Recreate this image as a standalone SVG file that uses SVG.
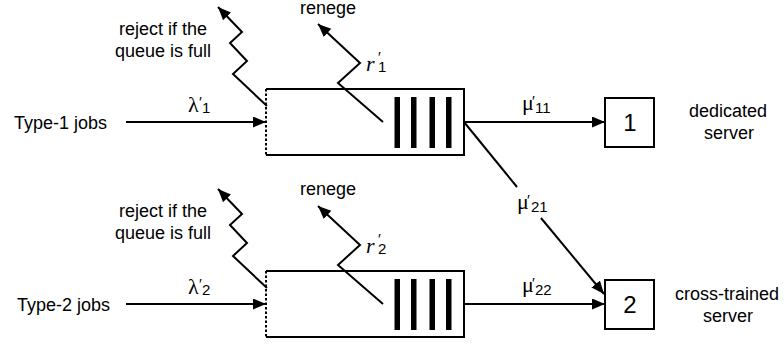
<svg xmlns="http://www.w3.org/2000/svg" width="784" height="345" viewBox="0 0 784 345">
<defs>
<marker id="ah" markerUnits="userSpaceOnUse" markerWidth="14" markerHeight="12" refX="13" refY="5.5" orient="auto">
<path d="M0,0 L13,5.5 L0,11 z" fill="#000"/>
</marker>
<style>
.ln{stroke:#000;stroke-width:2;fill:none}
.dash{stroke:#000;stroke-width:2;fill:none;stroke-dasharray:2.5 2}
.t{font-family:"Liberation Sans",Arial,sans-serif;font-size:18px;fill:#000}
.c{text-anchor:middle}
.g{font-family:"Liberation Serif","Times New Roman",serif;font-size:22px;fill:#000}
.it{font-style:italic}
.s{font-family:"Liberation Sans",Arial,sans-serif;font-size:15px;font-style:normal}
.bar{fill:#000}
.num{font-family:"Liberation Sans",Arial,sans-serif;font-size:24px;fill:#000;text-anchor:middle}
</style>
</defs>

<g id="source1">
<text class="t" x="107" y="129" text-anchor="end">Type-1 jobs</text>
</g>
<g id="source2">
<text class="t" x="110" y="311" text-anchor="end">Type-2 jobs</text>
</g>

<g id="queue1">
<path class="ln" d="M266,89 H464 V155 H266"/>
<line class="dash" x1="266" y1="89" x2="266" y2="155"/>
<rect class="bar" x="394.5" y="97" width="5.5" height="51"/>
<rect class="bar" x="411" y="97" width="5.5" height="51"/>
<rect class="bar" x="429.5" y="97" width="5.5" height="51"/>
<rect class="bar" x="446" y="97" width="5.5" height="51"/>
<text class="t c" x="163" y="35">reject if the</text>
<text class="t c" x="163" y="57">queue is full</text>
<text class="t c" x="328" y="14">renege</text>
<text class="g"><tspan class="it" x="366" y="71">r</tspan><tspan class="s" x="378" y="62">′</tspan><tspan class="s" x="378" y="72">1</tspan></text>
</g>

<g id="queue2">
<path class="ln" d="M266,271 H464 V337 H266"/>
<line class="dash" x1="266" y1="271" x2="266" y2="337"/>
<rect class="bar" x="394.5" y="279" width="5.5" height="51"/>
<rect class="bar" x="411" y="279" width="5.5" height="51"/>
<rect class="bar" x="429.5" y="279" width="5.5" height="51"/>
<rect class="bar" x="446" y="279" width="5.5" height="51"/>
<text class="t c" x="163" y="217">reject if the</text>
<text class="t c" x="163" y="239">queue is full</text>
<text class="t c" x="328" y="195">renege</text>
<text class="g"><tspan class="it" x="366" y="253">r</tspan><tspan class="s" x="378" y="244">′</tspan><tspan class="s" x="378" y="254">2</tspan></text>
</g>

<g id="server1">
<rect class="ln" x="605" y="98" width="49" height="49"/>
<text class="num" x="630" y="131">1</text>
<text class="t c" x="728" y="117">dedicated</text>
<text class="t c" x="729" y="139">server</text>
</g>

<g id="server2">
<rect class="ln" x="605" y="280" width="49" height="49"/>
<text class="num" x="630" y="313">2</text>
<text class="t c" x="727" y="300">cross-trained</text>
<text class="t c" x="728" y="322">server</text>
</g>

<g id="connectors">
<line class="ln" x1="126" y1="122" x2="266" y2="122" marker-end="url(#ah)"/>
<line class="ln" x1="126" y1="304" x2="266" y2="304" marker-end="url(#ah)"/>
<polyline class="ln" points="267,106 233,74 247,61 230,43 242,32 218,7" marker-end="url(#ah)"/>
<polyline class="ln" points="267,288 233,256 247,243 230,225 242,214 218,189" marker-end="url(#ah)"/>
<polyline class="ln" points="383,122 338,83 360,63 318,24" marker-end="url(#ah)"/>
<polyline class="ln" points="383,304 338,265 360,245 318,206" marker-end="url(#ah)"/>
<line class="ln" x1="464" y1="122" x2="605" y2="122" marker-end="url(#ah)"/>
<line class="ln" x1="464" y1="304" x2="605" y2="304" marker-end="url(#ah)"/>
<line class="ln" x1="464" y1="122" x2="517" y2="187"/>
<line class="ln" x1="541" y1="218" x2="604" y2="294" marker-end="url(#ah)"/>
</g>

<g id="labels">
<text class="g"><tspan x="188" y="112">λ</tspan><tspan class="s" x="199" y="107">′</tspan><tspan class="s" x="202" y="113">1</tspan></text>
<text class="g"><tspan x="188" y="294">λ</tspan><tspan class="s" x="199" y="289">′</tspan><tspan class="s" x="202" y="295">2</tspan></text>
<text class="g"><tspan x="522" y="110">μ</tspan><tspan class="s" x="532" y="106">′</tspan><tspan class="s" x="535" y="113">11</tspan></text>
<text class="g"><tspan x="517" y="209">μ</tspan><tspan class="s" x="527" y="205">′</tspan><tspan class="s" x="531" y="212">21</tspan></text>
<text class="g"><tspan x="522" y="292">μ</tspan><tspan class="s" x="532" y="288">′</tspan><tspan class="s" x="535" y="295">22</tspan></text>
</g>
</svg>
